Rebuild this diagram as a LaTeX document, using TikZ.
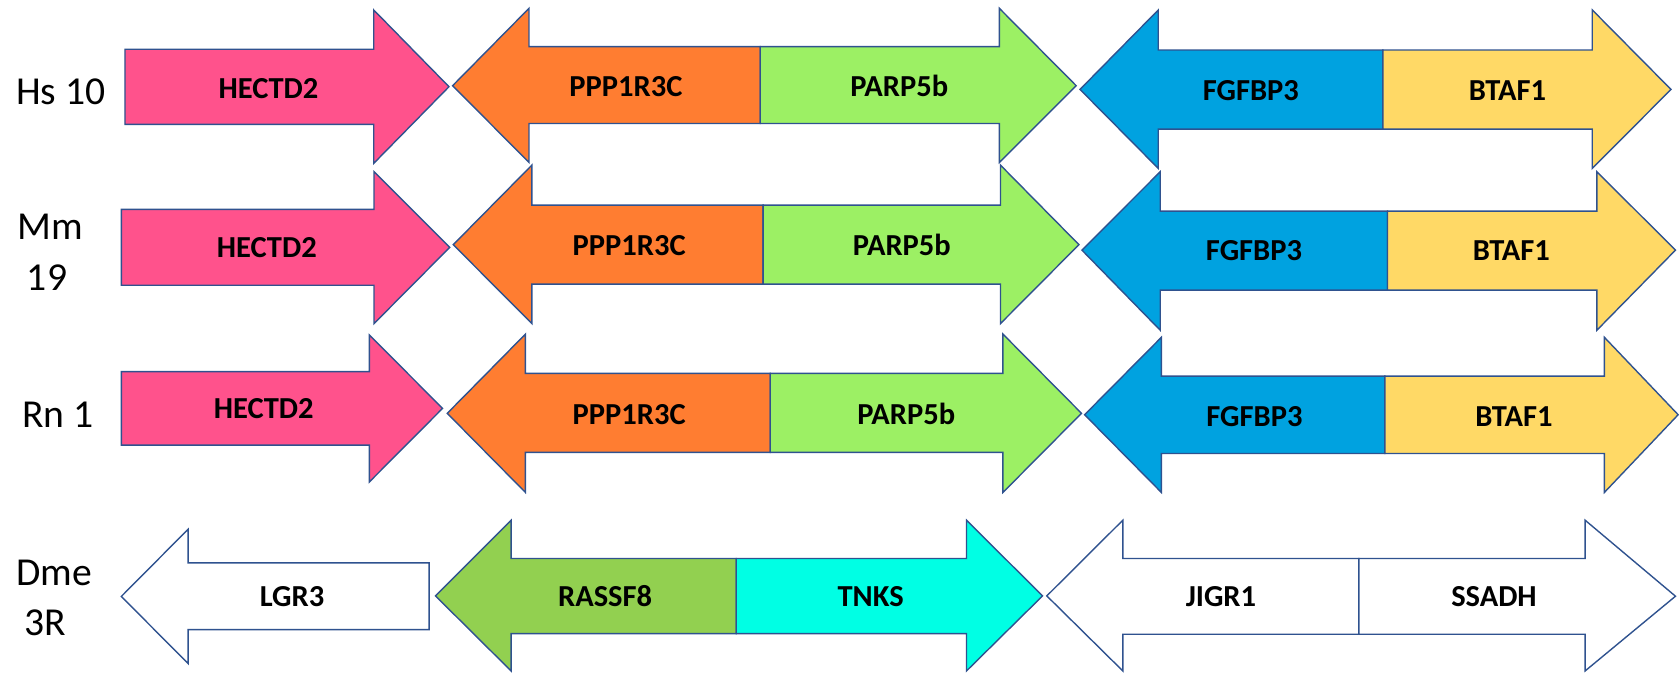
\documentclass[tikz,border=0pt]{standalone}
\usepackage{fontspec}
\setmainfont{Carlito}
\definecolor{outl}{RGB}{47,82,143}
\definecolor{cpink}{RGB}{255,82,140}
\definecolor{corange}{RGB}{255,125,49}
\definecolor{clime}{RGB}{156,240,100}
\definecolor{cblue}{RGB}{0,162,224}
\definecolor{cyellow}{RGB}{255,217,102}
\definecolor{cgreen}{RGB}{146,208,80}
\definecolor{ccyan}{RGB}{0,255,228}
\newcommand{\genefont}{\fontsize{28.5}{34}\selectfont\bfseries}
\newcommand{\spfont}{\fontsize{37}{44}\selectfont}
\tikzset{
  gene/.style={draw=outl, line width=1.3pt, line join=miter},
  glabel/.style={font=\genefont, anchor=base, inner sep=0pt},
  splabel/.style={font=\spfont, anchor=base west, inner sep=0pt}
}
\begin{document}
\begin{tikzpicture}[x=1pt,y=-1pt]
\useasboundingbox (0,0) rectangle (1568,628);

% ---------- Hs 10 ----------
\node[splabel] (hs) at (15,98) {Hs 10};
\path[gene,fill=cpink] (116.7,46) -- (349,46) -- (349,9.3) -- (419.3,81) -- (349,152.6) -- (349,116.2) -- (116.7,116.2) -- cycle;
\path[gene,fill=corange] (710,43.6) -- (494,43.6) -- (494,7.8) -- (422.7,80) -- (494,151.7) -- (494,115.3) -- (710,115.3) -- cycle;
\path[gene,fill=clime] (710,43.6) -- (933.3,43.6) -- (933.3,7.8) -- (1005,80) -- (933.3,151.7) -- (933.3,115.3) -- (710,115.3) -- cycle;
\path[gene,fill=cblue] (1291.5,46.7) -- (1081.7,46.7) -- (1081.7,9.3) -- (1008.6,83.5) -- (1081.7,157.3) -- (1081.7,120.6) -- (1291.5,120.6) -- cycle;
\path[gene,fill=cyellow] (1291.5,46.7) -- (1487,46.7) -- (1487,9.3) -- (1560.5,83.5) -- (1487,157.3) -- (1487,120.6) -- (1291.5,120.6) -- cycle;
\node[glabel] (hs-hectd2) at (250.8,91.9) {HECTD2};
\node[glabel] (hs-ppp) at (584.6,90.3) {PPP1R3C};
\node[glabel] (hs-parp) at (839.8,90.3) {PARP5b};
\node[glabel] (hs-fgf) at (1168.2,93.5) {FGFBP3};
\node[glabel] (hs-btaf) at (1407.8,93.5) {BTAF1};

% ---------- Mm 19 ----------
\node[splabel] (mm1) at (16,223.7) {Mm};
\node[splabel] (mm2) at (25,271) {19};
\path[gene,fill=cpink] (113.3,195.6) -- (349.3,195.6) -- (349.3,160.4) -- (420,231) -- (349.3,302.2) -- (349.3,266.4) -- (113.3,266.4) -- cycle;
\path[gene,fill=corange] (712.6,191.6) -- (496.7,191.6) -- (496.7,154.2) -- (423.3,228.5) -- (496.7,302.2) -- (496.7,265.4) -- (712.6,265.4) -- cycle;
\path[gene,fill=clime] (712.6,191.6) -- (934.3,191.6) -- (934.3,154.2) -- (1007.6,228.5) -- (934.3,302.2) -- (934.3,265.4) -- (712.6,265.4) -- cycle;
\path[gene,fill=cblue] (1295.8,197.2) -- (1083.5,197.2) -- (1083.5,160.4) -- (1010.4,233.6) -- (1083.5,308.4) -- (1083.5,271) -- (1295.8,271) -- cycle;
\path[gene,fill=cyellow] (1295.8,197.2) -- (1491.3,197.2) -- (1491.3,160.4) -- (1564.7,233.6) -- (1491.3,308.4) -- (1491.3,271) -- (1295.8,271) -- cycle;
\node[glabel] (mm-hectd2) at (249.2,240.8) {HECTD2};
\node[glabel] (mm-ppp) at (587.6,238.3) {PPP1R3C};
\node[glabel] (mm-parp) at (842.2,238.3) {PARP5b};
\node[glabel] (mm-fgf) at (1171.1,243.6) {FGFBP3};
\node[glabel] (mm-btaf) at (1411.4,243.6) {BTAF1};

% ---------- Rn 1 ----------
\node[splabel] (rn) at (20.7,399.2) {Rn 1};
\path[gene,fill=cpink] (113.3,347.1) -- (345,347.1) -- (345,312.9) -- (413.3,381.4) -- (345,450) -- (345,415.7) -- (113.3,415.7) -- cycle;
\path[gene,fill=corange] (719.3,348.7) -- (490.7,348.7) -- (490.7,312) -- (417.7,386) -- (490.7,459.9) -- (490.7,422.5) -- (719.3,422.5) -- cycle;
\path[gene,fill=clime] (719.3,348.7) -- (936.6,348.7) -- (936.6,312) -- (1010,386) -- (936.6,459.9) -- (936.6,422.5) -- (719.3,422.5) -- cycle;
\path[gene,fill=cblue] (1293.3,351.2) -- (1084.6,351.2) -- (1084.6,315) -- (1012.9,387.3) -- (1084.6,459.9) -- (1084.6,423.5) -- (1293.3,423.5) -- cycle;
\path[gene,fill=cyellow] (1293.3,351.2) -- (1498.3,351.2) -- (1498.3,315) -- (1567.2,387.3) -- (1498.3,459.9) -- (1498.3,423.5) -- (1293.3,423.5) -- cycle;
\node[glabel] (rn-hectd2) at (246.3,390.8) {HECTD2};
\node[glabel] (rn-ppp) at (587.6,396) {PPP1R3C};
\node[glabel] (rn-parp) at (846.3,396) {PARP5b};
\node[glabel] (rn-fgf) at (1171.5,397.9) {FGFBP3};
\node[glabel] (rn-btaf) at (1413.9,397.9) {BTAF1};

% ---------- Dme 3R ----------
\node[splabel] (dm1) at (15,546.5) {Dme};
\node[splabel] (dm2) at (22.7,593.2) {3R};
\path[gene,fill=white] (400.7,525.6) -- (175.7,525.6) -- (175.7,494.2) -- (113.3,557) -- (175.7,619.7) -- (175.7,588) -- (400.7,588) -- cycle;
\path[gene,fill=cgreen] (687.6,521.6) -- (477.3,521.6) -- (477.3,485.8) -- (406.7,556.5) -- (477.3,626.6) -- (477.3,591.7) -- (687.6,591.7) -- cycle;
\path[gene,fill=ccyan] (687.6,521.6) -- (902.6,521.6) -- (902.6,485.8) -- (973.6,556.5) -- (902.6,626.6) -- (902.6,591.7) -- (687.6,591.7) -- cycle;
\path[gene,fill=white] (1269,521.6) -- (1048.6,521.6) -- (1048.6,485.8) -- (977.6,556.5) -- (1048.6,626.6) -- (1048.6,592.3) -- (1269,592.3) -- cycle;
\path[gene,fill=white] (1269,521.6) -- (1480.3,521.6) -- (1480.3,485.8) -- (1564.7,556.8) -- (1480.3,626.6) -- (1480.3,592.3) -- (1269,592.3) -- cycle;
\node[glabel] (dm-lgr) at (272.7,566.8) {LGR3};
\node[glabel] (dm-rassf) at (565.1,566.8) {RASSF8};
\node[glabel] (dm-tnks) at (813.1,566.8) {TNKS};
\node[glabel] (dm-jigr) at (1140.2,566.8) {JIGR1};
\node[glabel] (dm-ssadh) at (1395.2,566.8) {SSADH};
\end{tikzpicture}
\end{document}
